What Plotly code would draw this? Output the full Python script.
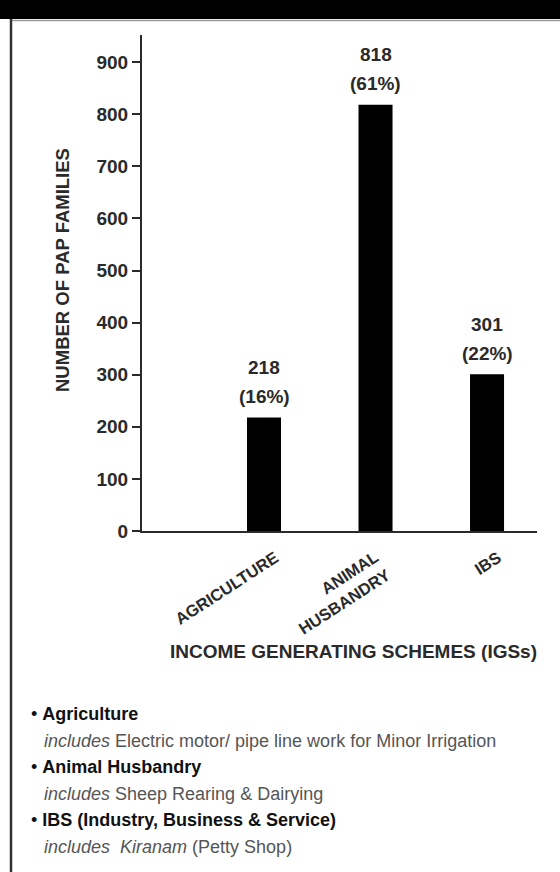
import plotly.graph_objects as go

# Income generating schemes taken up by PAP families
categories = ["AGRICULTURE", "ANIMAL HUSBANDRY", "IBS"]
tick_labels = ["AGRICULTURE", "ANIMAL<br>HUSBANDRY", "IBS"]
families = [218, 818, 301]
shares = ["16%", "61%", "22%"]
y_ticks = [0, 100, 200, 300, 400, 500, 600, 700, 800, 900]

notes = [
    ("• <b>Agriculture</b>", "<i>includes</i> Electric motor/ pipe line work for Minor Irrigation"),
    ("• <b>Animal Husbandry</b>", "<i>includes</i> Sheep Rearing &amp; Dairying"),
    ("• <b>IBS (Industry, Business &amp; Service)</b>", "<i>includes  Kiranam</i> (Petty Shop)"),
]

W, H = 560, 872
L, R, T, B = 142, 23, 35, 341
PW, PH = W - L - R, H - T - B

FONT = "Liberation Sans, Arial, Helvetica, sans-serif"
INK = "#2a2a2a"


def px(x):
    return (x - L) / PW


def py(y):
    return (H - B - y) / PH


def bold(s):
    return f"<b>{s}</b>"


fig = go.Figure(
    go.Bar(
        x=categories,
        y=families,
        width=0.305,
        marker=dict(color="#000000", line=dict(width=0)),
        hoverinfo="skip",
    )
)

annotations = []

# value and share printed above each bar
for cat, v, s in zip(categories, families, shares):
    for txt, lift in ((str(v), 50), (f"({s})", 21)):
        annotations.append(dict(
            x=cat, y=v, xref="x", yref="y",
            text=bold(txt), showarrow=False,
            xanchor="center", yanchor="middle", yshift=lift,
            font=dict(family=FONT, size=19, color=INK),
        ))

# rotated category labels below the baseline, lines right-aligned
for cat, lab in zip(categories, tick_labels):
    annotations.append(dict(
        x=cat, y=0, xref="x", yref="y",
        text=bold(lab), showarrow=False, textangle=-33, align="right",
        xanchor="right", yanchor="top", xshift=20, yshift=-14,
        font=dict(family=FONT, size=16.5, color=INK),
    ))

# axis titles
annotations.append(dict(
    x=px(62), y=py(270), xref="paper", yref="paper",
    text=bold("NUMBER OF PAP FAMILIES"), textangle=-90, showarrow=False,
    xanchor="center", yanchor="middle",
    font=dict(family=FONT, size=18.5, color=INK),
))
annotations.append(dict(
    x=px(353), y=py(651), xref="paper", yref="paper",
    text=bold("INCOME GENERATING SCHEMES (IGSs)"), showarrow=False,
    xanchor="center", yanchor="middle",
    font=dict(family=FONT, size=19, color=INK),
))

# explanatory notes under the chart
row_y = [714, 741, 767, 794, 820, 847]
for i, (head, detail) in enumerate(notes):
    annotations.append(dict(
        x=px(29), y=py(row_y[2 * i]), xref="paper", yref="paper",
        text=head, showarrow=False, xanchor="left", yanchor="middle",
        font=dict(family=FONT, size=18, color="#111111"),
    ))
    annotations.append(dict(
        x=px(42), y=py(row_y[2 * i + 1]), xref="paper", yref="paper",
        text=detail, showarrow=False, xanchor="left", yanchor="middle",
        font=dict(family=FONT, size=18, color="#555555"),
    ))

shapes = [
    # black heading band
    dict(type="rect", xref="paper", yref="paper",
         x0=px(0), x1=px(W), y0=py(19), y1=py(0),
         fillcolor="#000000", line=dict(width=0), layer="below"),
    # thin rule under the band
    dict(type="line", xref="paper", yref="paper",
         x0=px(11), x1=px(W), y0=py(20.5), y1=py(20.5),
         line=dict(color="#9a9a9a", width=1.5)),
    # left frame rule
    dict(type="line", xref="paper", yref="paper",
         x0=px(11), x1=px(11), y0=py(19), y1=py(H),
         line=dict(color="#333333", width=2.5)),
]

fig.update_layout(
    width=W, height=H,
    margin=dict(l=L, r=R, t=T, b=B, pad=0),
    paper_bgcolor="#ffffff",
    plot_bgcolor="#ffffff",
    showlegend=False,
    annotations=annotations,
    shapes=shapes,
    font=dict(family=FONT, color=INK),
    xaxis=dict(
        type="category",
        range=[-1.094, 2.448],
        showticklabels=False,
        ticks="",
        showline=True, linecolor="#2a2a2a", linewidth=2,
        showgrid=False, zeroline=False, fixedrange=True,
    ),
    yaxis=dict(
        range=[0, 952],
        tickvals=y_ticks,
        ticktext=[bold(v) for v in y_ticks],
        ticks="outside", ticklen=8, tickwidth=1.5, tickcolor="#2a2a2a",
        tickfont=dict(family=FONT, size=19, color=INK),
        showline=True, linecolor="#2a2a2a", linewidth=2,
        showgrid=False, zeroline=False, fixedrange=True,
    ),
)

fig.write_html("out.html")
